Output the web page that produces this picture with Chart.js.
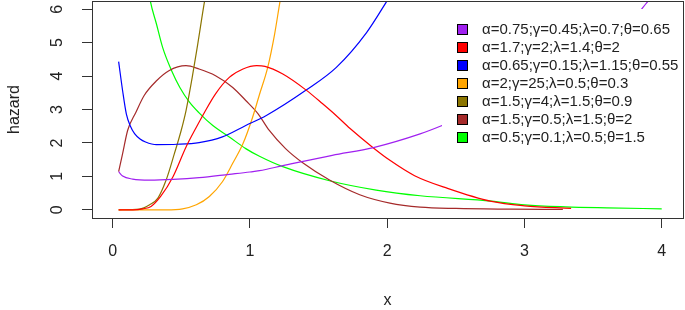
<!DOCTYPE html>
<html>
<head>
<meta charset="utf-8">
<script src="https://cdn.jsdelivr.net/npm/chart.js@4.4.0/dist/chart.umd.min.js"></script>
<style>
html, body { margin: 0; padding: 0; background: #fff; }
</style>
</head>
<body>
<canvas id="chart" width="685" height="310"></canvas>
<script>
const labels = [
    "α=0.75;γ=0.45;λ=0.7;θ=0.65",
    "α=1.7;γ=2;λ=1.4;θ=2",
    "α=0.65;γ=0.15;λ=1.15;θ=0.55",
    "α=2;γ=25;λ=0.5;θ=0.3",
    "α=1.5;γ=4;λ=1.5;θ=0.9",
    "α=1.5;γ=0.5;λ=1.5;θ=2",
    "α=0.5;γ=0.1;λ=0.5;θ=1.5"
];
const colors = ["#a020f0", "#ff0000", "#0000ff", "#ffa500", "#8b7500", "#a52a2a", "#00ff00"];

const xTicks = [0, 1, 2, 3, 4];
const yTicks = [0, 1, 2, 3, 4, 5, 6];

const purpleX = [0.044, 0.073, 0.146, 0.27, 0.44, 0.63, 0.85, 1.0, 1.07, 1.24, 1.6, 1.9, 2.24, 2.4, 2.6, 2.8, 3.0, 3.2, 3.4, 3.6, 3.82, 3.89, 4.0];
const purpleY = [1.14, 1.01, 0.92, 0.89, 0.91, 0.96, 1.06, 1.13, 1.17, 1.32, 1.63, 1.86, 2.27, 2.52, 2.88, 3.27, 3.7, 4.18, 4.7, 5.25, 5.84, 6.19, 6.7];

const redX = [0.044, 0.15, 0.22, 0.28, 0.35, 0.44, 0.535, 0.61, 0.67, 0.75, 0.85, 0.95, 1.05, 1.11, 1.24, 1.41, 1.53, 1.62, 1.73, 1.9, 2.02, 2.2, 2.44, 2.76, 3.0, 3.34];
const redY = [0, 0, 0.03, 0.10, 0.40, 0.99, 1.88, 2.47, 2.92, 3.47, 3.96, 4.21, 4.31, 4.29, 4.06, 3.58, 3.17, 2.85, 2.43, 1.85, 1.48, 1.02, 0.64, 0.25, 0.12, 0.04];

const blueX = [0.044, 0.073, 0.1, 0.13, 0.16, 0.2, 0.24, 0.32, 0.47, 0.63, 0.8, 0.97, 1.12, 1.41, 1.63, 1.85, 1.99, 2.05];
const blueY = [4.43, 3.56, 2.87, 2.5, 2.28, 2.12, 2.03, 1.95, 1.96, 2.01, 2.18, 2.52, 2.82, 3.58, 4.26, 5.3, 6.19, 6.6];

const orangeX = [0.044, 0.2, 0.39, 0.51, 0.61, 0.705, 0.8, 0.875, 0.95, 1.02, 1.07, 1.13, 1.18, 1.22, 1.25];
const orangeY = [0, 0, 0, 0.03, 0.15, 0.4, 0.84, 1.39, 1.98, 2.77, 3.45, 4.26, 5.25, 6.24, 6.9];

const oliveX = [0.044, 0.195, 0.27, 0.33, 0.39, 0.45, 0.5, 0.535, 0.58, 0.62, 0.67, 0.7];
const oliveY = [0, 0.02, 0.15, 0.35, 0.89, 1.68, 2.38, 2.97, 3.96, 4.95, 6.24, 6.9];

const brownX = [0.044, 0.073, 0.11, 0.17, 0.23, 0.32, 0.41, 0.535, 0.63, 0.75, 0.875, 0.97, 1.06, 1.14, 1.26, 1.39, 1.58, 1.8, 2.02, 2.24, 2.5, 2.9, 3.28];
const brownY = [1.14, 1.68, 2.38, 2.92, 3.42, 3.86, 4.16, 4.31, 4.21, 4.01, 3.66, 3.27, 2.87, 2.38, 1.83, 1.39, 0.89, 0.45, 0.2, 0.08, 0.04, 0.02, 0.01];

const greenX = [0.25, 0.275, 0.32, 0.365, 0.43, 0.49, 0.56, 0.63, 0.73, 0.85, 0.97, 1.07, 1.24, 1.58, 1.92, 2.24, 2.76, 3.0, 3.3, 3.6, 4.0];
const greenY = [6.9, 6.24, 5.55, 4.85, 4.16, 3.66, 3.22, 2.9, 2.52, 2.18, 1.83, 1.6, 1.29, 0.87, 0.59, 0.42, 0.26, 0.15, 0.09, 0.06, 0.03];

const seriesX = [purpleX, redX, blueX, orangeX, oliveX, brownX, greenX];
const seriesY = [purpleY, redY, blueY, orangeY, oliveY, brownY, greenY];

function pts(xs, ys) {
    return xs.map((x, i) => ({ x: x, y: ys[i] }));
}

const FONT = '"Liberation Sans", Arial, sans-serif';
const INK = "#222";

// box, rotated y tick labels and the legend (R style)
const rbase = {
    id: "rbase",
    afterDatasetsDraw(chart) {
        const ctx = chart.ctx;
        ctx.save();
        ctx.fillStyle = "#fff";
        ctx.fillRect(442, 9, 243, 146);
        ctx.font = "15px " + FONT;
        ctx.textBaseline = "middle";
        ctx.textAlign = "left";
        chart.data.datasets.forEach((ds, i) => {
            const y = Math.round(28.5 + i * 18.1);
            ctx.fillStyle = ds.borderColor;
            ctx.fillRect(457, y - 5, 11, 11);
            ctx.strokeStyle = "#000";
            ctx.lineWidth = 1;
            ctx.strokeRect(457.5, y - 4.5, 10, 10);
            ctx.fillStyle = INK;
            ctx.fillText(ds.label, 482, y + 0.5);
        });
        ctx.restore();
    },
    afterDraw(chart) {
        const ctx = chart.ctx;
        const a = chart.chartArea;
        ctx.save();
        ctx.strokeStyle = "#333";
        ctx.lineWidth = 1;
        ctx.strokeRect(Math.round(a.left) + 0.5, Math.round(a.top) + 0.5,
            Math.round(a.right - a.left), Math.round(a.bottom - a.top));
        const ys = chart.scales.y;
        ctx.font = "16px " + FONT;
        ctx.fillStyle = INK;
        ctx.textAlign = "center";
        ctx.textBaseline = "middle";
        ys.ticks.forEach(t => {
            ctx.save();
            ctx.translate(58, ys.getPixelForValue(t.value));
            ctx.rotate(-Math.PI / 2);
            ctx.fillText(String(t.value), 0, 0);
            ctx.restore();
        });
        ctx.restore();
    }
};

const ctx = document.getElementById("chart").getContext("2d");
const chart = new Chart(ctx, {
    type: "line",
    data: {
        datasets: labels.map((lab, i) => ({
            label: lab,
            data: pts(seriesX[i], seriesY[i]),
            borderColor: colors[i],
            backgroundColor: colors[i],
            borderWidth: 1.2,
            pointRadius: 0,
            fill: false,
            cubicInterpolationMode: "monotone"
        }))
    },
    options: {
        responsive: false,
        animation: false,
        devicePixelRatio: 1,
        layout: { padding: { left: 0, right: 2, top: 1, bottom: 0 } },
        plugins: { legend: { display: false }, tooltip: { enabled: false } },
        scales: {
            x: {
                type: "linear",
                min: -0.15,
                max: 4.155,
                afterBuildTicks: s => { s.ticks = xTicks.map(v => ({ value: v })); },
                afterFit: s => { s.height = 92; },
                ticks: { font: { family: FONT, size: 16 }, color: INK, padding: 14, maxRotation: 0, autoSkip: false },
                grid: { drawOnChartArea: false, tickLength: 10, color: "#333" },
                border: { display: false },
                title: { display: true, text: "x", font: { family: FONT, size: 16 }, color: INK, padding: { top: 0, bottom: 0 } }
            },
            y: {
                type: "linear",
                min: -0.245,
                max: 6.245,
                afterBuildTicks: s => { s.ticks = yTicks.map(v => ({ value: v })); },
                afterFit: s => { s.width = 92; },
                ticks: { display: false },
                grid: { drawOnChartArea: false, tickLength: 10, color: "#333" },
                border: { display: false },
                title: { display: true, text: "hazard", font: { family: FONT, size: 16 }, color: INK, padding: { top: 5, bottom: 0 } }
            }
        }
    },
    plugins: [rbase]
});
</script>
</body>
</html>
